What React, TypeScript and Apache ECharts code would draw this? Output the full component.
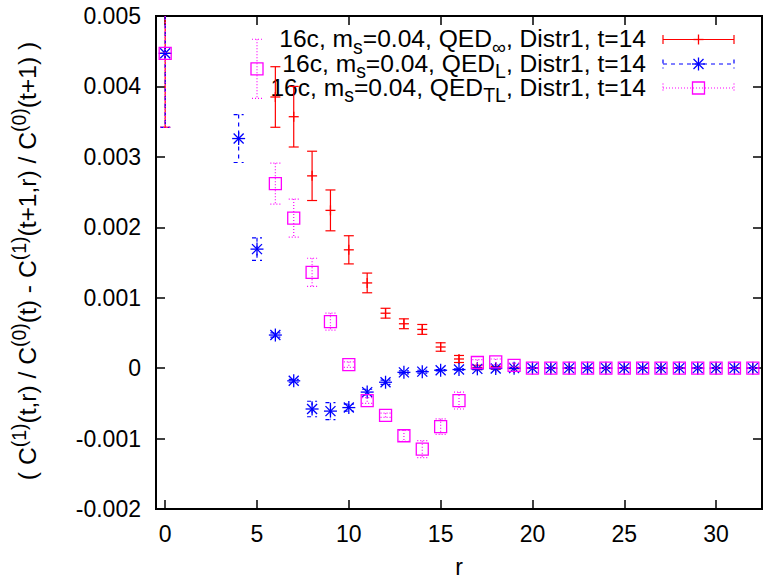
import React, { useEffect, useRef } from "react";
import * as echarts from "echarts";

const FONT = '"Liberation Sans", Arial, Helvetica, sans-serif';

// ---- data ----
const xTicks = [0, 5, 10, 15, 20, 25, 30];

const rInf = [0, 6, 7, 8, 9, 10, 11, 12, 13, 14, 15, 16, 17, 18, 19, 20, 21, 22, 23, 24, 25, 26, 27, 28, 29, 30, 31, 32];
const valInf = [0.00447, 0.00385, 0.00357, 0.00273, 0.00224, 0.00168, 0.00121, 0.00078, 0.00063, 0.00055, 0.0003, 0.00013, 0.00001, 0.000005, 0.000002, 0, 0, 0, 0, 0, 0, 0, 0, 0, 0, 0, 0, 0];
const errInf = [0.00105, 0.00043, 0.00043, 0.00035, 0.00029, 0.0002, 0.00014, 0.00007, 0.00007, 0.00007, 0.00006, 0.00005, 0.00003, 0.00002, 0.00001, 0.000005, 0.000005, 0.000005, 0.000005, 0.000005, 0.000005, 0.000005, 0.000005, 0.000005, 0.000005, 0.000005, 0.000005, 0.000005];

const rL = [0, 4, 5, 6, 7, 8, 9, 10, 11, 12, 13, 14, 15, 16, 17, 18, 19, 20, 21, 22, 23, 24, 25, 26, 27, 28, 29, 30, 31, 32];
const valL = [0.00447, 0.00326, 0.00169, 0.00047, -0.00018, -0.00058, -0.00061, -0.00056, -0.00034, -0.0002, -0.00006, -0.00005, -0.00003, -0.00002, -0.00001, -0.000005, 0, 0, 0, 0, 0, 0, 0, 0, 0, 0, 0, 0, 0, 0];
const errL = [0.00105, 0.00034, 0.00016, 0.00003, 0.00002, 0.00011, 0.00012, 0.00005, 0.00004, 0.00003, 0.00002, 0.00002, 0.00001, 0.00001, 0.00001, 0.000005, 0.000003, 0.000003, 0.000003, 0.000003, 0.000003, 0.000003, 0.000003, 0.000003, 0.000003, 0.000003, 0.000003, 0.000003, 0.000003, 0.000003];

const rTL = [0, 5, 6, 7, 8, 9, 10, 11, 12, 13, 14, 15, 16, 17, 18, 19, 20, 21, 22, 23, 24, 25, 26, 27, 28, 29, 30, 31, 32];
const valTL = [0.00447, 0.00425, 0.00262, 0.00213, 0.00136, 0.00066, 0.00005, -0.00046, -0.00067, -0.00096, -0.00115, -0.00083, -0.00046, 0.00008, 0.00009, 0.00004, 0, 0, 0, 0, 0, 0, 0, 0, 0, 0, 0, 0, 0];
const errTL = [0.00105, 0.00042, 0.00029, 0.00027, 0.0002, 0.00012, 0.00004, 0.00004, 0.00003, 0.00008, 0.00012, 0.00011, 0.00012, 0.00004, 0.00004, 0.00003, 0.000003, 0.000003, 0.000003, 0.000003, 0.000003, 0.000003, 0.000003, 0.000003, 0.000003, 0.000003, 0.000003, 0.000003, 0.000003];

// rich-text markup: a = normal, b = subscript, c = superscript
const legendInf = "{a|16c, m}{b|s}{a|=0.04, QED}{b|\u221e}{a|, Distr1, t=14}";
const legendL = "{a|16c, m}{b|s}{a|=0.04, QED}{b|L}{a|, Distr1, t=14}";
const legendTL = "{a|16c, m}{b|s}{a|=0.04, QED}{b|TL}{a|, Distr1, t=14}";
const yLabel = "{a|( C}{c|(1)}{a|(t,r) / C}{c|(0)}{a|(t) - C}{c|(1)}{a|(t+1,r) / C}{c|(0)}{a|(t+1) )}";
const xLabel = "r";

const MAIN = 23;
const BIG = 24.6;
const SMALL = 19.5;

const RICH = {
  a: { fontSize: BIG, fontFamily: FONT, fill: "#000", color: "#000" },
  b: { fontSize: SMALL, fontFamily: FONT, fill: "#000", color: "#000", padding: [16, 0, 0, 0] },
  c: { fontSize: SMALL, fontFamily: FONT, fill: "#000", color: "#000", padding: [0, 0, 16, 0] },
};

function symbolEls(kind: string, cx: number, cy: number, color: string) {
  const st = { stroke: color, lineWidth: 1.3, fill: "none" };
  if (kind === "plus") {
    const h = 5;
    return [
      { type: "line", shape: { x1: cx - h, y1: cy, x2: cx + h, y2: cy }, style: st },
      { type: "line", shape: { x1: cx, y1: cy - h, x2: cx, y2: cy + h }, style: st },
    ];
  }
  if (kind === "star") {
    const h = 6.5, d = 5;
    return [
      { type: "line", shape: { x1: cx - h, y1: cy, x2: cx + h, y2: cy }, style: st },
      { type: "line", shape: { x1: cx, y1: cy - h, x2: cx, y2: cy + h }, style: st },
      { type: "line", shape: { x1: cx - d, y1: cy - d, x2: cx + d, y2: cy + d }, style: st },
      { type: "line", shape: { x1: cx - d, y1: cy + d, x2: cx + d, y2: cy - d }, style: st },
    ];
  }
  const h = 6;
  return [{ type: "rect", shape: { x: cx - h, y: cy - h, width: 2 * h, height: 2 * h }, style: st }];
}

function makeRender(color: string, dash: number[] | null, sym: string) {
  return (params: any, api: any) => {
    const x = api.value(0), y = api.value(1), e = api.value(2);
    const c = api.coord([x, y]);
    const t = api.coord([x, y + e]);
    const b = api.coord([x, y - e]);
    const cs = params.coordSys;
    const top = cs.y, bot = cs.y + cs.height;
    const st: any = { stroke: color, lineWidth: 1.2, fill: "none" };
    if (dash) st.lineDash = dash;
    const cap = 5;
    const children: any[] = [];
    const y1 = Math.max(t[1], top), y2 = Math.min(b[1], bot);
    if (y2 > y1) children.push({ type: "line", shape: { x1: c[0], y1, x2: c[0], y2 }, style: st });
    if (t[1] >= top) children.push({ type: "line", shape: { x1: c[0] - cap, y1: t[1], x2: c[0] + cap, y2: t[1] }, style: st });
    if (b[1] <= bot) children.push({ type: "line", shape: { x1: c[0] - cap, y1: b[1], x2: c[0] + cap, y2: b[1] }, style: st });
    if (c[1] >= top && c[1] <= bot) children.push(...symbolEls(sym, c[0], c[1], color));
    return { type: "group", children };
  };
}

const SERIES = [
  { r: rInf, v: valInf, e: errInf, color: "#ff0000", dash: null as number[] | null, sym: "plus", legend: legendInf },
  { r: rL, v: valL, e: errL, color: "#0000ff", dash: [4, 4], sym: "star", legend: legendL },
  { r: rTL, v: valTL, e: errTL, color: "#ff00ff", dash: [1, 2], sym: "square", legend: legendTL },
];

export default function App() {
  const ref = useRef<HTMLDivElement>(null);
  useEffect(() => {
    if (!ref.current) return;
    const chart = echarts.init(ref.current, null, { renderer: "svg" });

    const gridLeft = 156, gridTop = 16, gridW = 606, gridH = 493;

    const tickStyle = { color: "#000", width: 1.5 };
    const graphics: any[] = [];

    // legend
    const rowsY = [38.5, 63, 87];
    const textRight = 646;
    const sx1 = 663, sx2 = 734, sxc = (sx1 + sx2) / 2;
    SERIES.forEach((s, i) => {
      const y = rowsY[i];
      graphics.push({
        type: "text",
        x: textRight,
        y,
        style: { text: s.legend, rich: RICH, align: "right", verticalAlign: "middle", fontSize: BIG, fontFamily: FONT, fill: "#000" },
      });
      const st: any = { stroke: s.color, lineWidth: 1.2, fill: "none" };
      if (s.dash) st.lineDash = s.dash;
      const ly = y + 1;
      graphics.push({ type: "line", shape: { x1: sx1, y1: ly, x2: sx2, y2: ly }, style: st });
      graphics.push({ type: "line", shape: { x1: sx1, y1: ly - 4.5, x2: sx1, y2: ly + 4.5 }, style: st });
      graphics.push({ type: "line", shape: { x1: sx2, y1: ly - 4.5, x2: sx2, y2: ly + 4.5 }, style: st });
      symbolEls(s.sym, sxc, ly, s.color).forEach((el) => graphics.push(el));
    });

    // y-axis label (rotated)
    graphics.push({
      type: "text",
      x: 27,
      y: 261,
      rotation: Math.PI / 2,
      style: { text: yLabel, rich: RICH, align: "center", verticalAlign: "middle", fontSize: BIG, fontFamily: FONT, fill: "#000" },
    });

    // x-axis label
    graphics.push({
      type: "text",
      x: 459,
      y: 567,
      style: { text: xLabel, fontSize: MAIN, fontFamily: FONT, fill: "#000", align: "center", verticalAlign: "middle" },
    });

    const yFmt = (v: number) => {
      const s = parseFloat(v.toFixed(3));
      return s === 0 ? "0" : String(s);
    };

    chart.setOption({
      animation: false,
      backgroundColor: "#fff",
      grid: { left: gridLeft, top: gridTop, width: gridW, height: gridH, show: true, borderColor: "#000", borderWidth: 2, backgroundColor: "transparent" },
      xAxis: [
        {
          type: "value", min: -0.5, max: 32.5, position: "bottom",
          axisLine: { show: false, onZero: false }, splitLine: { show: false },
          axisTick: { show: true, inside: true, length: 9, lineStyle: tickStyle, customValues: xTicks },
          axisLabel: { show: true, customValues: xTicks, fontSize: MAIN, fontFamily: FONT, color: "#000", margin: 13 },
        },
        {
          type: "value", min: -0.5, max: 32.5, position: "top",
          axisLine: { show: false, onZero: false }, splitLine: { show: false },
          axisTick: { show: true, inside: true, length: 9, lineStyle: tickStyle, customValues: xTicks },
          axisLabel: { show: false },
        },
      ],
      yAxis: [
        {
          type: "value", min: -0.002, max: 0.005, interval: 0.001, position: "left",
          axisLine: { show: false, onZero: false }, splitLine: { show: false },
          axisTick: { show: true, inside: true, length: 9, lineStyle: tickStyle },
          axisLabel: { show: true, formatter: yFmt, fontSize: MAIN, fontFamily: FONT, color: "#000", margin: 15 },
        },
        {
          type: "value", min: -0.002, max: 0.005, interval: 0.001, position: "right",
          axisLine: { show: false, onZero: false }, splitLine: { show: false },
          axisTick: { show: true, inside: true, length: 9, lineStyle: tickStyle },
          axisLabel: { show: false },
        },
      ],
      series: SERIES.map((s) => ({
        type: "custom",
        xAxisIndex: 0,
        yAxisIndex: 0,
        clip: true,
        renderItem: makeRender(s.color, s.dash, s.sym),
        encode: { x: 0, y: 1 },
        data: s.r.map((rv, i) => [rv, s.v[i], s.e[i]]),
      })),
      graphic: graphics,
    });
    return () => chart.dispose();
  }, []);
  return <div ref={ref} style={{ position: "absolute", left: 0, top: 0, width: 764, height: 580 }} />;
}
